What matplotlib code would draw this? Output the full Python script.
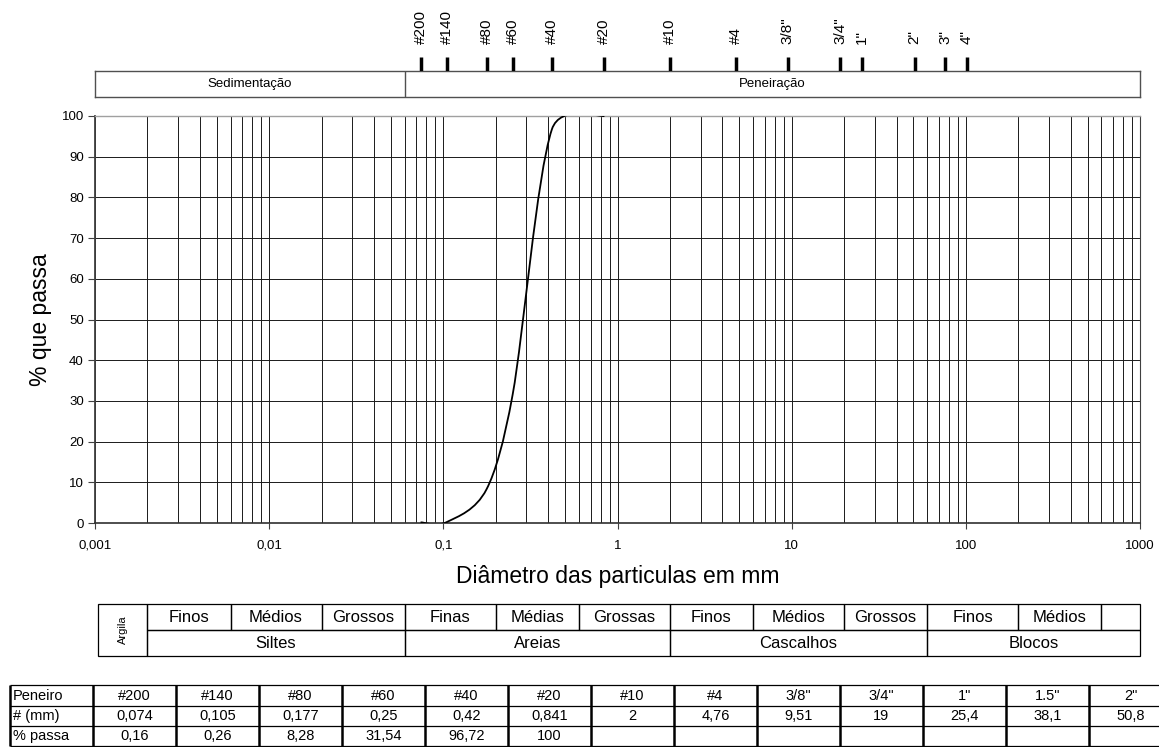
import numpy as np
import matplotlib
matplotlib.use('Agg')
import matplotlib.pyplot as plt
from matplotlib.path import Path
from matplotlib.patches import PathPatch, Rectangle
from matplotlib.ticker import LogLocator, NullFormatter, NullLocator

plt.rcParams['font.family'] = ['Liberation Sans', 'DejaVu Sans']

# ---------------- data ----------------
sieve_names = ['#200', '#140', '#80', '#60', '#40', '#20', '#10', '#4',
               '3/8"', '3/4"', '1"', '1.5"', '2"']
sieve_mm = [0.074, 0.105, 0.177, 0.25, 0.42, 0.841, 2, 4.76, 9.51, 19, 25.4, 38.1, 50.8]
pct_passing = [0.16, 0.26, 8.28, 31.54, 96.72, 100]

top_sieve_names = ['#200', '#140', '#80', '#60', '#40', '#20', '#10', '#4',
                   '3/8"', '3/4"', '1"', '2"', '3"', '4"']
top_sieve_mm = [0.074, 0.105, 0.177, 0.25, 0.42, 0.841, 2, 4.76, 9.51, 19, 25.4,
                50.8, 76.2, 101.6]

method_labels = ['Sedimentação', 'Peneiração']
method_bounds = [0.001, 0.06, 1000]

sub_labels = ['Finos', 'Médios', 'Grossos', 'Finas', 'Médias', 'Grossas',
              'Finos', 'Médios', 'Grossos', 'Finos', 'Médios', '']
sub_bounds = [0.002, 0.006, 0.02, 0.06, 0.2, 0.6, 2, 6, 20, 60, 200, 600, 1000]
main_labels = ['Siltes', 'Areias', 'Cascalhos', 'Blocos']
main_bounds = [0.002, 0.06, 2, 60, 1000]
clay_label = 'Argila'
clay_bounds = [0.00104, 0.002]

x_ticks = [0.001, 0.01, 0.1, 1, 10, 100, 1000]
x_ticklabels = ['0,001', '0,01', '0,1', '1', '10', '100', '1000']
y_ticks = list(range(0, 101, 10))

row_titles = ['Peneiro', '# (mm)', '% passa']


def fmt(v):
    return f"{v:g}".replace('.', ',')


# ---------------- figure ----------------
W, H = 1159, 747
fig = plt.figure(figsize=(W / 100, H / 100), dpi=100)


def rect(l, t, r, b):
    return [l / W, 1 - b / H, (r - l) / W, (b - t) / H]


XLIM = (1e-3, 1e3)

# main chart
ax = fig.add_axes(rect(95, 116, 1140, 523))
ax.set_xscale('log')
ax.set_xlim(*XLIM)
ax.set_ylim(0, 100)
ax.set_xticks(x_ticks)
ax.set_xticklabels(x_ticklabels)
ax.xaxis.set_minor_locator(LogLocator(base=10, subs=np.arange(2, 10)))
ax.xaxis.set_minor_formatter(NullFormatter())
ax.set_yticks(y_ticks)
ax.tick_params(axis='x', which='minor', length=0)
ax.tick_params(axis='x', which='major', length=4, direction='out', pad=8,
               labelsize=9.5, color='#404040')
ax.tick_params(axis='y', length=5, direction='out', pad=3, labelsize=9.5, color='#404040')
ax.grid(True, which='both', axis='x', color='#1a1a1a', lw=0.7)
ax.grid(True, which='major', axis='y', color='#1a1a1a', lw=0.7)
ax.set_axisbelow(True)
ax.spines['left'].set_color('#404040'); ax.spines['left'].set_linewidth(1.3)
ax.spines['bottom'].set_color('#303030'); ax.spines['bottom'].set_linewidth(1.2)
ax.spines['top'].set_color('#a0a0a0'); ax.spines['top'].set_linewidth(1.0)
ax.spines['right'].set_color('#404040'); ax.spines['right'].set_linewidth(0.8)

# smoothed grading curve: spreadsheet-style Bezier smoothing through the
# measured points, computed in display space of the axes
n = len(pct_passing)
pts = ax.transData.transform(np.column_stack([np.array(sieve_mm[:n], float),
                                              np.array(pct_passing, float)]))
verts = [pts[0]]
codes = [Path.MOVETO]
for i in range(n - 1):
    p0 = pts[i - 1] if i > 0 else pts[i]
    p1 = pts[i]
    p2 = pts[i + 1]
    p3 = pts[i + 2] if i + 2 < n else pts[i + 1]
    d02 = np.hypot(*(p2 - p0)); d12 = np.hypot(*(p2 - p1)); d13 = np.hypot(*(p3 - p1))
    if d02 / 6 < d12 / 2 and d13 / 6 < d12 / 2:
        b1 = p1 + (p2 - p0) / 6
        b2 = p2 - (p3 - p1) / 6
    elif d02 / 6 >= d12 / 2 and d13 / 6 >= d12 / 2:
        b1 = p1 + (p2 - p0) * d12 / 2 / d02
        b2 = p2 - (p3 - p1) * d12 / 2 / d13
    elif d02 / 6 >= d12 / 2:
        b1 = p1 + (p2 - p0) * d12 / 2 / d02
        b2 = p2 - (p3 - p1) * d12 / 2 / d13 * (d13 / d02)
    else:
        b1 = p1 + (p2 - p0) * d12 / 2 / d02 * (d02 / d13)
        b2 = p2 - (p3 - p1) * d12 / 2 / d13
    verts += [b1, b2, p2]
    codes += [Path.CURVE4] * 3
verts = ax.transData.inverted().transform(np.array(verts))
ax.add_patch(PathPatch(Path(verts, codes), fill=False, edgecolor='black', lw=1.3,
                       zorder=5))

fig.text(40 / W, 1 - 320 / H, '% que passa', rotation=90, ha='center', va='center',
         fontsize=16.5)
fig.text(618 / W, 1 - 577 / H, 'Diâmetro das particulas em mm', ha='center',
         va='center', fontsize=16.5)

# method bar (Sedimentação / Peneiração)
axm = fig.add_axes(rect(95, 71, 1140, 97))
axm.set_xscale('log'); axm.set_xlim(*XLIM); axm.set_ylim(0, 1)
axm.xaxis.set_major_locator(NullLocator()); axm.xaxis.set_minor_locator(NullLocator())
axm.yaxis.set_major_locator(NullLocator()); axm.yaxis.set_minor_locator(NullLocator())
for s in axm.spines.values():
    s.set_color('#505050'); s.set_linewidth(1.0)
for i, lab in enumerate(method_labels):
    a, b = method_bounds[i], method_bounds[i + 1]
    if i > 0:
        axm.axvline(a, color='#505050', lw=1.0)
    axm.text(np.sqrt(a * b), 0.5, lab, ha='center', va='center', fontsize=9.5)

# sieve ticks on top
axs = fig.add_axes(rect(95, 57, 1140, 71))
axs.set_xscale('log'); axs.set_xlim(*XLIM); axs.set_ylim(0, 1)
axs.axis('off')
axs.vlines(top_sieve_mm, 0, 1, color='black', lw=2.5)
for name, mm in zip(top_sieve_names, top_sieve_mm):
    axs.annotate(name, (mm, 1), xytext=(0, 9), textcoords='offset points',
                 rotation=90, ha='center', va='bottom', fontsize=11)

# classification table
axc = fig.add_axes(rect(95, 604, 1140, 656))
axc.set_xscale('log'); axc.set_xlim(*XLIM); axc.set_ylim(0, 2)
axc.axis('off')
lw_c = 0.9
for i, lab in enumerate(sub_labels):
    a, b = sub_bounds[i], sub_bounds[i + 1]
    axc.add_patch(Rectangle((a, 1), b - a, 1, fill=False, lw=lw_c, edgecolor='black',
                            clip_on=False))
    if lab:
        axc.text(np.sqrt(a * b), 1.5, lab, ha='center', va='center', fontsize=12)
for i, lab in enumerate(main_labels):
    a, b = main_bounds[i], main_bounds[i + 1]
    axc.add_patch(Rectangle((a, 0), b - a, 1, fill=False, lw=lw_c, edgecolor='black',
                            clip_on=False))
    axc.text(np.sqrt(a * b), 0.5, lab, ha='center', va='center', fontsize=12)
a, b = clay_bounds
axc.add_patch(Rectangle((a, 0), b - a, 2, fill=False, lw=lw_c, edgecolor='black',
                        clip_on=False))
axc.text(np.sqrt(a * b), 1.0, clay_label, ha='center', va='center', rotation=90,
         fontsize=8)

# bottom data table (drawn in figure pixel space)
axt = fig.add_axes([0, 0, 1, 1])
axt.set_xlim(0, W); axt.set_ylim(H, 0); axt.axis('off')
tab_left, first_w, col_w = 10, 83, 83.0
row_edges = [685, 706, 726, 746]
ncol = len(sieve_names)
col_edges = [tab_left, tab_left + first_w] + [tab_left + first_w + col_w * (k + 1)
                                              for k in range(ncol)]
for y in row_edges:
    axt.plot([col_edges[0], col_edges[-1]], [y, y], color='black', lw=0.9,
             solid_capstyle='butt')
for x in col_edges:
    axt.plot([x, x], [row_edges[0], row_edges[-1]], color='black', lw=1.8,
             solid_capstyle='butt')
rows = [sieve_names, [fmt(v) for v in sieve_mm],
        [fmt(v) for v in pct_passing] + [''] * (ncol - len(pct_passing))]
for r, (title, vals) in enumerate(zip(row_titles, rows)):
    yc = (row_edges[r] + row_edges[r + 1]) / 2
    axt.text(col_edges[0] + 3, yc, title, ha='left', va='center', fontsize=10.5)
    for k, v in enumerate(vals):
        xc = (col_edges[k + 1] + col_edges[k + 2]) / 2
        axt.text(xc, yc, v, ha='center', va='center', fontsize=10.5)

fig.savefig('out.png', dpi=100)
